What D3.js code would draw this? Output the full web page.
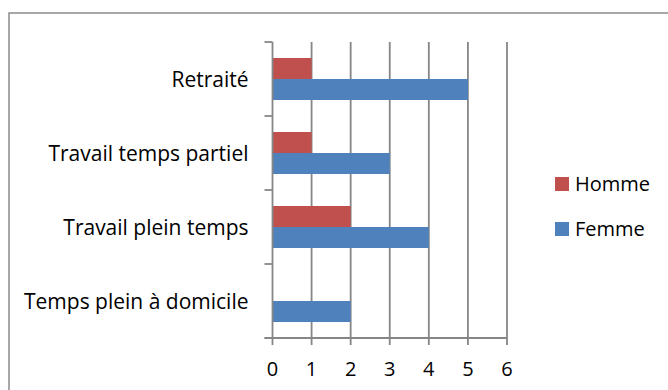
<!DOCTYPE html>
<html>
<head>
<meta charset="utf-8">
<script src="https://cdn.jsdelivr.net/npm/d3@7"></script>
<style>
  html, body { margin: 0; padding: 0; background: #fff; }
  svg { display: block; }
  text { font-family: "Open Sans", sans-serif; fill: #000; }
</style>
</head>
<body>
<svg id="chart" width="668" height="390"></svg>
<script>
// Occupation by sex
const categories = ["Temps plein à domicile", "Travail plein temps", "Travail temps partiel", "Retraité"];
const seriesNames = ["Homme", "Femme"];
const homme = [0, 2, 1, 1];
const femme = [2, 4, 3, 5];
const xTickValues = [0, 1, 2, 3, 4, 5, 6];
const colors = { Homme: "#C0504D", Femme: "#4F81BD" };

const svg = d3.select("#chart");
const gridColor = "#868686";

// chart frame
svg.append("rect")
  .attr("x", 9).attr("y", 13)
  .attr("width", 720).attr("height", 420)
  .attr("fill", "none")
  .attr("stroke", "#8a8a8a")
  .attr("stroke-width", 1.5);

const plot = { left: 272.5, right: 507, top: 42, bottom: 338 };

const x = d3.scaleLinear().domain([0, 6]).range([plot.left, plot.right]);
// last category at the top, as in a bar chart with categories bottom-up
const y = d3.scaleBand()
  .domain(categories.slice().reverse())
  .range([plot.top, plot.bottom])
  .padding(0);
const ySub = d3.scaleBand()
  .domain(seriesNames)
  .range([0, y.bandwidth()])
  .paddingInner(0)
  .paddingOuter(0.762);

// vertical gridlines
svg.append("g")
  .selectAll("line")
  .data(xTickValues.filter(d => d > 0))
  .join("line")
  .attr("x1", d => x(d)).attr("x2", d => x(d))
  .attr("y1", plot.top).attr("y2", plot.bottom)
  .attr("stroke", gridColor)
  .attr("stroke-width", 1.8);

// bars
const rows = categories.map((c, i) => ({ cat: c, values: [
  { name: "Homme", v: homme[i] },
  { name: "Femme", v: femme[i] }
]}));

svg.append("g")
  .selectAll("g")
  .data(rows)
  .join("g")
  .attr("transform", d => `translate(0,${y(d.cat)})`)
  .selectAll("rect")
  .data(d => d.values)
  .join("rect")
  .attr("x", x(0))
  .attr("y", d => ySub(d.name))
  .attr("width", d => x(d.v) - x(0))
  .attr("height", ySub.bandwidth())
  .attr("fill", d => colors[d.name]);

// category axis (left)
const yAxisG = svg.append("g");
yAxisG.append("line")
  .attr("x1", x(0)).attr("x2", x(0))
  .attr("y1", plot.top).attr("y2", plot.bottom)
  .attr("stroke", gridColor).attr("stroke-width", 1.8);
const bounds = y.domain().map(c => y(c)).concat([plot.bottom]);
yAxisG.selectAll("line.tick")
  .data(bounds)
  .join("line")
  .attr("class", "tick")
  .attr("x1", x(0) - 8).attr("x2", x(0))
  .attr("y1", d => d).attr("y2", d => d)
  .attr("stroke", gridColor).attr("stroke-width", 1.8);
yAxisG.selectAll("text")
  .data(y.domain())
  .join("text")
  .attr("x", x(0) - 24)
  .attr("y", d => y(d) + y.bandwidth() / 2 + 7.5)
  .attr("text-anchor", "end")
  .attr("font-size", 21)
  .text(d => d);

// value axis (bottom)
const xAxisG = svg.append("g");
xAxisG.append("line")
  .attr("x1", x(0) - 8).attr("x2", plot.right)
  .attr("y1", plot.bottom).attr("y2", plot.bottom)
  .attr("stroke", gridColor).attr("stroke-width", 1.8);
xAxisG.selectAll("line.tick")
  .data(xTickValues)
  .join("line")
  .attr("class", "tick")
  .attr("x1", d => x(d)).attr("x2", d => x(d))
  .attr("y1", plot.bottom).attr("y2", plot.bottom + 7)
  .attr("stroke", gridColor).attr("stroke-width", 1.8);
xAxisG.selectAll("text")
  .data(xTickValues)
  .join("text")
  .attr("x", d => x(d))
  .attr("y", 376)
  .attr("text-anchor", "middle")
  .attr("font-size", 20)
  .text(d => d);

// legend
const legend = svg.append("g");
const legendRows = [
  { name: "Homme", y: 177 },
  { name: "Femme", y: 222 }
];
legend.selectAll("rect")
  .data(legendRows)
  .join("rect")
  .attr("x", 555).attr("y", d => d.y)
  .attr("width", 14).attr("height", 14)
  .attr("fill", d => colors[d.name]);
legend.selectAll("text")
  .data(legendRows)
  .join("text")
  .attr("x", 575).attr("y", d => d.y + 14)
  .attr("font-size", 20)
  .text(d => d.name);
</script>
</body>
</html>
